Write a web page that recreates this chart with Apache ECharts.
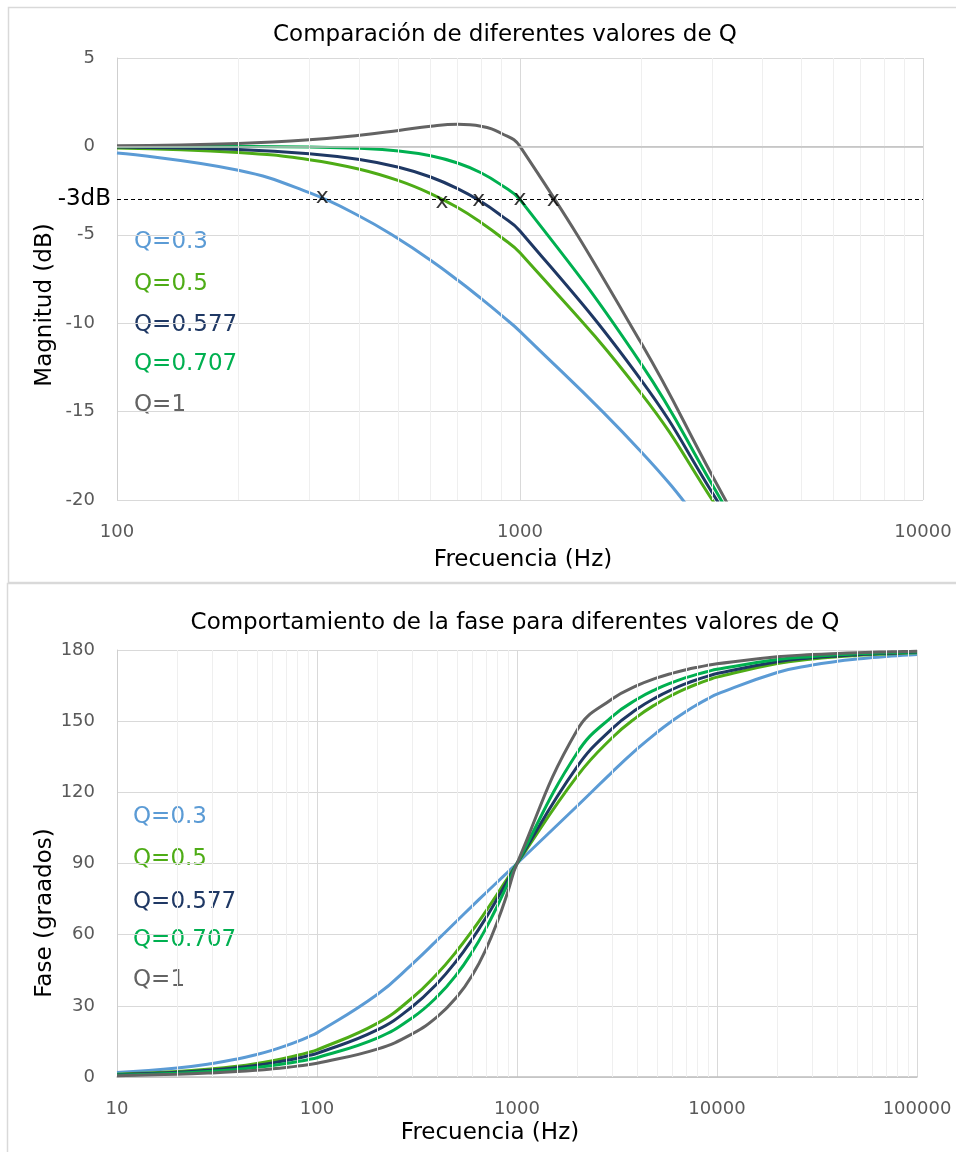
<!DOCTYPE html>
<html>
<head>
<meta charset="utf-8">
<script src="https://cdn.jsdelivr.net/npm/echarts@6/dist/echarts.min.js"></script>
<style>
  html, body { margin: 0; padding: 0; background: #fff; }
  #main { width: 956px; height: 1152px; }
</style>
</head>
<body>
<div id="main"></div>
<script>
// magnitude chart: frequency samples (Hz) and dB per Q
const magFreq = [100, 200, 300, 400, 500, 600, 700, 800, 900, 1000,
  2000, 3000, 4000, 5000, 6000, 7000, 8000, 9000, 10000];
const magQ03 = [-0.38, -1.35, -2.62, -3.95, -5.24, -6.44, -7.56, -8.60, -9.56, -10.46,
  -17.28, -22.15, -26.05, -29.31, -32.11, -34.55, -36.70, -38.63, -40.38];
const magQ05 = [-0.09, -0.34, -0.75, -1.29, -1.94, -2.67, -3.46, -4.30, -5.15, -6.02,
  -13.98, -20.00, -24.61, -28.30, -31.36, -33.98, -36.26, -38.28, -40.09];
const magQ0577 = [-0.04, -0.18, -0.41, -0.74, -1.18, -1.73, -2.39, -3.12, -3.93, -4.78,
  -13.23, -19.59, -24.36, -28.14, -31.25, -33.89, -36.19, -38.22, -40.04];
const magQ0707 = [0.00, -0.01, -0.04, -0.11, -0.26, -0.53, -0.94, -1.49, -2.19, -3.01,
  -12.31, -19.14, -24.10, -27.97, -31.13, -33.81, -36.13, -38.17, -40.00];
const magQ1 = [0.04, 0.17, 0.37, 0.63, 0.90, 1.14, 1.25, 1.14, 0.73, 0.00,
  -11.14, -18.63, -23.82, -27.79, -31.01, -33.72, -36.06, -38.12, -39.96];

// -3 dB crossing marks
const cutFreq = [323, 640, 790, 1000, 1210];
const cutDb = [-2.9, -3.15, -3.05, -3.0, -3.05];

// phase chart: frequency samples (Hz) and degrees per Q
const phaseFreq = [10, 20, 30, 40, 50, 60, 70, 80, 90,
  100, 200, 300, 400, 500, 600, 700, 800, 900, 1000,
  2000, 3000, 4000, 5000, 6000, 7000, 8000, 9000,
  10000, 20000, 30000, 40000, 50000, 60000, 70000, 80000, 90000, 100000];
const phQ03 = [1.91, 3.82, 5.72, 7.61, 9.49, 11.35, 13.20, 15.02, 16.83,
  18.61, 34.78, 47.73, 57.79, 65.75, 72.26, 77.67, 82.31, 86.38, 90,
  114.25, 128.66, 138.38, 145.22, 150.25, 154.08, 157.06, 159.44,
  161.39, 170.52, 173.65, 175.23, 176.18, 176.82, 177.27, 177.61, 177.88, 178.09];
const phQ05 = [1.15, 2.29, 3.44, 4.58, 5.73, 6.87, 8.01, 9.15, 10.29,
  11.42, 22.62, 33.40, 43.60, 53.13, 61.93, 69.98, 77.32, 83.97, 90,
  126.87, 143.13, 151.93, 157.38, 161.08, 163.74, 165.75, 167.32,
  168.58, 174.28, 176.18, 177.14, 177.71, 178.09, 178.36, 178.57, 178.73, 178.85];
const phQ0577 = [0.99, 1.99, 2.98, 3.97, 4.97, 5.96, 6.95, 7.94, 8.94,
  9.93, 19.85, 29.74, 39.53, 49.12, 58.39, 67.20, 75.44, 83.06, 90,
  130.88, 146.98, 155.20, 160.15, 163.45, 165.82, 167.59, 168.97,
  170.07, 175.04, 176.69, 177.52, 178.01, 178.35, 178.58, 178.76, 178.90, 179.01];
const phQ0707 = [0.81, 1.62, 2.43, 3.24, 4.06, 4.87, 5.68, 6.50, 7.31,
  8.13, 16.42, 25.00, 33.96, 43.32, 52.98, 62.75, 72.35, 81.51, 90,
  136.68, 152.06, 159.33, 163.58, 166.37, 168.34, 169.82, 170.96,
  171.87, 175.95, 177.30, 177.97, 178.38, 178.65, 178.84, 178.99, 179.10, 179.19];
const phQ1 = [0.57, 1.15, 1.72, 2.29, 2.87, 3.45, 4.02, 4.60, 5.18,
  5.77, 11.77, 18.25, 25.46, 33.69, 43.15, 53.92, 65.75, 78.08, 90,
  146.31, 159.44, 165.07, 168.23, 170.27, 171.70, 172.76, 173.58,
  174.23, 177.13, 178.09, 178.57, 178.85, 179.05, 179.18, 179.28, 179.36, 179.43];

const qNames = ['Q=0.3', 'Q=0.5', 'Q=0.577', 'Q=0.707', 'Q=1'];
const qColors = ['#5b9bd5', '#4eac16', '#1f3864', '#00b050', '#636363'];

// minor log gridlines
const magMinor = [200, 300, 400, 500, 600, 700, 800, 900,
  2000, 3000, 4000, 5000, 6000, 7000, 8000, 9000];
const phaseMinor = [20, 30, 40, 50, 60, 70, 80, 90,
  200, 300, 400, 500, 600, 700, 800, 900,
  2000, 3000, 4000, 5000, 6000, 7000, 8000, 9000,
  20000, 30000, 40000, 50000, 60000, 70000, 80000, 90000];

const FONT = 'DejaVu Sans';
const chart = echarts.init(document.getElementById('main'));

const makeLine = (name, color, freq, vals, idx) => ({
  type: 'line',
  name,
  xAxisIndex: idx,
  yAxisIndex: idx,
  data: freq.map((f, i) => [f, vals[i]]),
  smooth: 0.45,
  symbol: 'none',
  lineStyle: { color, width: 3 },
  itemStyle: { color },
  z: 3,
});

const minorLines = (idx, ticks, extra) => ({
  type: 'line',
  xAxisIndex: idx,
  yAxisIndex: idx,
  data: [],
  z: 1,
  markLine: {
    silent: true,
    symbol: 'none',
    animation: false,
    label: { show: false },
    lineStyle: { color: '#efefef', width: 1, type: 'solid' },
    data: ticks.map(v => ({ xAxis: v })).concat(extra || []),
  },
});

const xAxisBase = {
  type: 'log',
  logBase: 10,
  axisTick: { show: false },
  axisLabel: { formatter: v => String(v), color: '#595959', fontSize: 18, fontFamily: FONT, margin: 23 },
  splitLine: { show: true, lineStyle: { color: '#d9d9d9', width: 1 } },
};
const yAxisBase = {
  type: 'value',
  axisTick: { show: false },
  axisLine: { show: true, lineStyle: { color: '#cfcfcf', width: 1 } },
  axisLabel: { color: '#595959', fontSize: 18, fontFamily: FONT, margin: 22 },
  splitLine: { show: true, lineStyle: { color: '#d9d9d9', width: 1 } },
};

const text = (str, x, y, opts) => ({
  type: 'text',
  x, y,
  silent: true,
  rotation: (opts && opts.rotation) || 0,
  style: {
    text: str,
    fill: (opts && opts.color) || '#000',
    font: ((opts && opts.size) || 23) + 'px "' + FONT + '"',
    textAlign: (opts && opts.align) || 'center',
    textVerticalAlign: 'middle',
  },
});

const topLegendY = [242, 284, 325, 364, 405];
const botLegendY = [817, 859, 902, 940, 980];

chart.setOption({
  animation: false,
  textStyle: { fontFamily: FONT },
  grid: [
    { left: 117, top: 58, width: 806, height: 442 },
    { left: 117, top: 650, width: 800, height: 427 },
  ],
  xAxis: [
    { ...xAxisBase, gridIndex: 0, min: 100, max: 10000,
      axisLine: { show: false, onZero: false } },
    { ...xAxisBase, gridIndex: 1, min: 10, max: 100000,
      axisLine: { show: true, onZero: false, lineStyle: { color: '#bfbfbf', width: 1.5 } } },
  ],
  yAxis: [
    { ...yAxisBase, gridIndex: 0, min: -20, max: 5, interval: 5 },
    { ...yAxisBase, gridIndex: 1, min: 0, max: 180, interval: 30 },
  ],
  series: [
    minorLines(0, magMinor, [
      { yAxis: 0, lineStyle: { color: '#bfbfbf', width: 1.5, type: 'solid' } },
      {
        yAxis: -3,
        lineStyle: { color: '#000', width: 1, type: [4, 3] },
        label: { show: true, position: 'start', formatter: '-3dB', color: '#000', fontSize: 23, fontFamily: FONT, distance: 6 },
      },
    ]),
    minorLines(1, phaseMinor),
    makeLine(qNames[0], qColors[0], magFreq, magQ03, 0),
    makeLine(qNames[1], qColors[1], magFreq, magQ05, 0),
    makeLine(qNames[2], qColors[2], magFreq, magQ0577, 0),
    makeLine(qNames[3], qColors[3], magFreq, magQ0707, 0),
    makeLine(qNames[4], qColors[4], magFreq, magQ1, 0),
    {
      type: 'scatter',
      xAxisIndex: 0,
      yAxisIndex: 0,
      data: cutFreq.map((f, i) => [f, cutDb[i]]),
      symbolSize: 1,
      itemStyle: { color: 'rgba(0,0,0,0)' },
      label: { show: true, position: 'inside', formatter: 'x', color: '#000', fontSize: 22, fontFamily: FONT },
      z: 5,
    },
    makeLine(qNames[0], qColors[0], phaseFreq, phQ03, 1),
    makeLine(qNames[1], qColors[1], phaseFreq, phQ05, 1),
    makeLine(qNames[2], qColors[2], phaseFreq, phQ0577, 1),
    makeLine(qNames[3], qColors[3], phaseFreq, phQ0707, 1),
    makeLine(qNames[4], qColors[4], phaseFreq, phQ1, 1),
  ],
  graphic: [
    { type: 'rect', silent: true, z: -10,
      shape: { x: 8.5, y: 7.5, width: 960, height: 575 },
      style: { fill: 'none', stroke: '#d9d9d9', lineWidth: 1.5 } },
    { type: 'rect', silent: true, z: -10,
      shape: { x: 7.5, y: 583.5, width: 960, height: 600 },
      style: { fill: 'none', stroke: '#d9d9d9', lineWidth: 1.5 } },
    text('Comparación de diferentes valores de Q', 505, 35),
    text('Comportamiento de la fase para diferentes valores de Q', 515, 623),
    text('Magnitud (dB)', 45, 305, { rotation: Math.PI / 2 }),
    text('Frecuencia (Hz)', 523, 560),
    text('Fase (graados)', 45, 913, { rotation: Math.PI / 2 }),
    text('Frecuencia (Hz)', 490, 1133),
    ...qNames.map((n, i) => text(n, 134, topLegendY[i], { color: qColors[i], align: 'left' })),
    ...qNames.map((n, i) => text(n, 133, botLegendY[i], { color: qColors[i], align: 'left' })),
  ],
});
</script>
</body>
</html>
